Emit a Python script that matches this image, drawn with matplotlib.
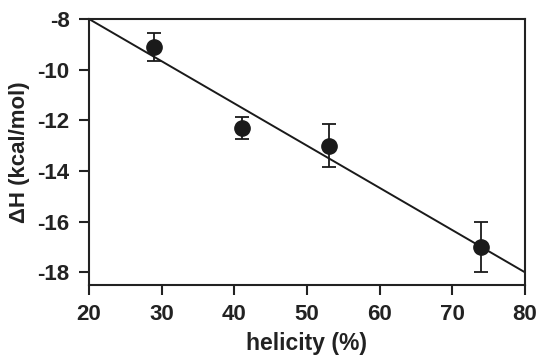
import matplotlib
matplotlib.use("Agg")
import matplotlib.pyplot as plt
import numpy as np

plt.rcParams['font.family'] = ['Liberation Sans', 'DejaVu Sans']

helicity = [29, 41, 53, 74]
dH = [-9.1, -12.3, -13.0, -17.0]
dH_err = [0.55, 0.45, 0.85, 1.0]
fit_x = [20, 80]
fit_y = [-8.0, -18.0]

fig = plt.figure(figsize=(5.38, 3.59), dpi=100)
ax = fig.add_axes([89/538, 1-285/359, (525-89)/538, (285-19)/359])

ax.plot(fit_x, fit_y, color='#1a1a1a', lw=1.4, zorder=2)
ax.errorbar(helicity, dH, yerr=dH_err, fmt='o', color='#1a1a1a', ms=11,
            ecolor='#1a1a1a', elinewidth=1.3, capsize=5, capthick=1.3, zorder=3)

ax.set_xlim(20, 80)
ax.set_ylim(-18.5, -8)
ax.set_xticks([20, 30, 40, 50, 60, 70, 80])
ax.set_yticks([-18, -16, -14, -12, -10, -8])
ax.set_yticklabels(['-18', '-16', '-14', '-12', '-10', '-8'])
for s in ax.spines.values():
    s.set_color('#222222')
    s.set_linewidth(1.5)
ax.tick_params(direction='out', length=7, width=1.5, color='#222222',
               labelsize=16, pad=7)
for lab in ax.get_xticklabels() + ax.get_yticklabels():
    lab.set_fontweight('bold')
    lab.set_color('#222222')
ax.set_xlabel('helicity (%)', fontsize=16.5, fontweight='bold', color='#222222', labelpad=5)
ax.set_ylabel('ΔH (kcal/mol)', fontsize=16, fontweight='bold', color='#222222', labelpad=5)

fig.savefig('out.png', dpi=100)
